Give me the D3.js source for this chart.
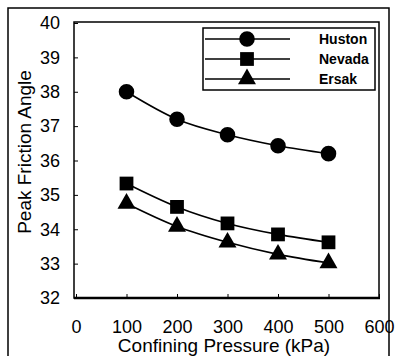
<!DOCTYPE html>
<html>
<head>
<meta charset="utf-8">
<script src="https://cdn.jsdelivr.net/npm/d3@7"></script>
<style>
  body { margin: 0; background: #fff; }
  text { font-family: Arial, "Liberation Sans", sans-serif; fill: #000; }
</style>
</head>
<body>
<script>
var presiones = [100, 200, 300, 400, 500];
var huston = [38.0, 37.2, 36.75, 36.43, 36.2];
var nevada = [35.33, 34.65, 34.17, 33.85, 33.62];
var ersak = [34.75, 34.08, 33.62, 33.27, 33.02];
var ticksX = [0, 100, 200, 300, 400, 500, 600];
var ticksY = [32, 33, 34, 35, 36, 37, 38, 39, 40];
var series = [
    { nombre: "Huston", valores: huston, simbolo: d3.symbolCircle },
    { nombre: "Nevada", valores: nevada, simbolo: d3.symbolSquare },
    { nombre: "Ersak", valores: ersak, simbolo: d3.symbolTriangle }
];

var width = 397, height = 356;

var svg = d3.select("body").append("svg")
    .attr("width", width)
    .attr("height", height);

// marco exterior
svg.append("path")
    .attr("d", "M8,356 V8 H389 V356")
    .attr("fill", "none").attr("stroke", "#000").attr("stroke-width", 1.5);

var escalaX = d3.scaleLinear().domain([0, 600]).range([76, 379]);
var escalaY = d3.scaleLinear().domain([32, 40]).range([298, 23]);

// area del grafico
svg.append("rect")
    .attr("x", 74).attr("y", 22)
    .attr("width", 379 - 74).attr("height", 298 - 22)
    .attr("fill", "none").attr("stroke", "#000").attr("stroke-width", 1.5);
svg.append("line")
    .attr("x1", 74).attr("x2", 380).attr("y1", 298).attr("y2", 298)
    .attr("stroke", "#000").attr("stroke-width", 2.5);

var ejeX = d3.axisBottom(escalaX).tickValues(ticksX).tickSizeInner(-4).tickSizeOuter(0).tickPadding(22);
var gX = svg.append("g").attr("transform", "translate(0,298)").call(ejeX);
gX.select(".domain").remove();
gX.selectAll("text").style("font-size", "18px");

var ejeY = d3.axisLeft(escalaY).tickValues(ticksY).tickSizeInner(-4).tickSizeOuter(0).tickPadding(14);
var gY = svg.append("g").attr("transform", "translate(74,0)").call(ejeY);
gY.select(".domain").remove();
gY.selectAll("text").style("font-size", "18px");

svg.append("text")
    .attr("transform", "translate(31,152) rotate(-90)")
    .attr("text-anchor", "middle")
    .style("font-size", "19px")
    .text("Peak Friction Angle");

svg.append("text")
    .attr("x", 224).attr("y", 352)
    .attr("text-anchor", "middle")
    .style("font-size", "19px")
    .text("Confining Pressure (kPa)");

var linea = d3.line()
    .x(function(d, i) { return escalaX(presiones[i]); })
    .y(function(d) { return escalaY(d); })
    .curve(d3.curveMonotoneX);

series.forEach(function(s) {
    svg.append("path")
        .attr("d", linea(s.valores))
        .attr("fill", "none").attr("stroke", "#000").attr("stroke-width", 1.6);
    svg.selectAll(null)
        .data(s.valores)
        .join("path")
        .attr("transform", function(d, i) { return "translate(" + escalaX(presiones[i]) + "," + escalaY(d) + ")"; })
        .attr("d", d3.symbol().type(s.simbolo).size(s.simbolo === d3.symbolTriangle ? 140 : 190))
        .attr("fill", "#000");
});

// leyenda
var leyenda = svg.append("g");
leyenda.append("rect")
    .attr("x", 203).attr("y", 28).attr("width", 172).attr("height", 62)
    .attr("fill", "#fff").attr("stroke", "#000").attr("stroke-width", 1.5);
series.forEach(function(s, i) {
    var y = 39 + i * 20;
    leyenda.append("line")
        .attr("x1", 205).attr("x2", 290).attr("y1", y).attr("y2", y)
        .attr("stroke", "#000").attr("stroke-width", 1.6);
    leyenda.append("path")
        .attr("transform", "translate(247," + y + ")")
        .attr("d", d3.symbol().type(s.simbolo).size(s.simbolo === d3.symbolTriangle ? 140 : 190))
        .attr("fill", "#000");
    leyenda.append("text")
        .attr("x", 319).attr("y", y + 5)
        .style("font-size", "14px")
        .style("font-weight", "bold")
        .text(s.nombre);
});
</script>
</body>
</html>
